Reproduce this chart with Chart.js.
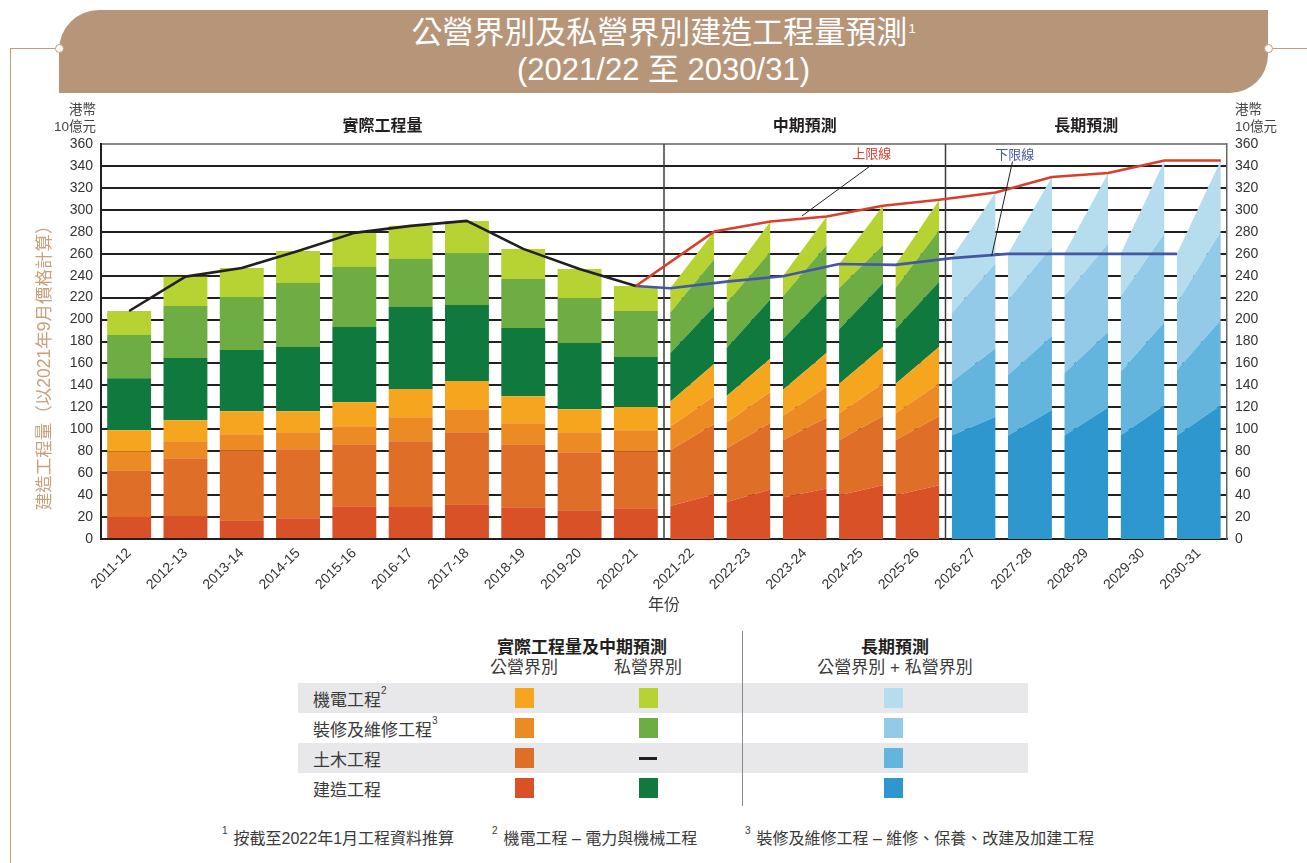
<!DOCTYPE html>
<html><head><meta charset="utf-8">
<script src="https://cdn.jsdelivr.net/npm/chart.js@4.4.1/dist/chart.umd.min.js"></script>
<style>
html,body{margin:0;padding:0;background:#fff;}
body{width:1307px;height:863px;position:relative;overflow:hidden;font-family:"Liberation Sans","Noto Sans CJK TC",sans-serif;color:#3a3a3a;}
.abs{position:absolute;}
#chartWrap{position:absolute;left:0;top:0;width:1307px;height:625px;}
.banner{left:59px;top:10px;width:1209px;height:83px;background:#B79579;border-radius:40px 0 38px 0;color:#fff;text-align:center;font-size:31px;line-height:37px;padding-top:4px;box-sizing:border-box;font-family:"Liberation Sans","Noto Sans CJK TC",sans-serif;}
.banner sup{font-size:13px;vertical-align:top;position:relative;top:-4px;margin-left:1px;}
.conn{background:#C49C7E;}
.dot{width:9px;height:9px;border-radius:50%;background:#fff;border:1.3px solid #C49C7E;box-sizing:border-box;}
.unit{font-size:13.5px;line-height:17px;color:#444;}
.lg{font-size:17px;color:#3a3a3a;white-space:nowrap;}
.lgh{font-size:17px;font-weight:bold;color:#231F20;white-space:nowrap;}
.band{left:298px;width:730px;height:30px;background:#E8E8EA;}
.sw{width:19px;height:20px;}
.lg sup{font-size:10px;vertical-align:top;position:relative;top:-1px;}
.fn{font-size:16px;color:#3a3a3a;white-space:nowrap;top:825px;}
.fn sup{font-size:10px;vertical-align:top;position:relative;top:0px;margin-right:6px;}
</style></head>
<body>
<!-- decorative connector lines -->
<div class="abs conn" style="left:10px;top:48px;width:49px;height:1px;"></div>
<div class="abs conn" style="left:10px;top:48px;width:1px;height:815px;"></div>
<div class="abs conn" style="left:1268px;top:48px;width:39px;height:1px;"></div>
<div class="abs banner">公營界別及私營界別建造工程量預測<sup>1</sup><br>(2021/22 至 2030/31)</div>
<div class="abs dot" style="left:54.5px;top:43.5px;"></div>
<div class="abs dot" style="left:1263.5px;top:43.5px;"></div>

<div id="chartWrap"><canvas id="c" width="1307" height="625"></canvas></div>

<div class="abs unit" style="right:1211px;top:101px;text-align:right;">港幣<br>10億元</div>
<div class="abs unit" style="left:1235px;top:101px;text-align:left;">港幣<br>10億元</div>

<!-- legend -->
<div class="abs band" style="top:683px;"></div>
<div class="abs band" style="top:743px;"></div>
<div class="abs" style="left:742px;top:631px;width:1px;height:175px;background:#8a8a8a;"></div>
<div class="abs lgh" style="left:582px;top:633px;transform:translateX(-50%);">實際工程量及中期預測</div>
<div class="abs lg" style="left:524px;top:653px;transform:translateX(-50%);">公營界別</div>
<div class="abs lg" style="left:648px;top:653px;transform:translateX(-50%);">私營界別</div>
<div class="abs lgh" style="left:895px;top:633px;transform:translateX(-50%);">長期預測</div>
<div class="abs lg" style="left:895px;top:653px;transform:translateX(-50%);">公營界別 + 私營界別</div>
<div id="legendRows"></div>

<div class="abs fn" style="left:222px;"><sup>1</sup>按截至2022年1月工程資料推算</div>
<div class="abs fn" style="left:492px;"><sup>2</sup>機電工程 – 電力與機械工程</div>
<div class="abs fn" style="left:745px;"><sup>3</sup>裝修及維修工程 – 維修、保養、改建及加建工程</div>

<script>
// ---------------- DATA ----------------
const categories = ['2011-12','2012-13','2013-14','2014-15','2015-16','2016-17','2017-18','2018-19','2019-20','2020-21',
  '2021-22','2022-23','2023-24','2024-25','2025-26','2026-27','2027-28','2028-29','2029-30','2030-31'];

// Actual output 2011-12 .. 2020-21 (HK$ billion)
const actPubBuild  = [20.1, 21.0, 17.0, 18.9, 29.8, 29.2, 31.6, 28.9, 26.2, 28.0];
const actPubCivil  = [42.6, 52.6, 63.9, 62.9, 56.6, 59.9, 65.8, 57.5, 52.9, 52.0];
const actPubFit    = [17.3, 15.5, 14.6, 15.6, 16.4, 21.9, 20.9, 19.2, 18.3, 19.2];
const actPubEM     = [19.2, 19.2, 21.0, 19.1, 21.9, 25.6, 25.6, 24.6, 20.9, 21.0];
const actPrivBuild = [47.4, 56.6, 55.7, 58.4, 68.5, 74.8, 69.4, 62.1, 60.3, 45.6];
const actPrivFit   = [39.3, 47.5, 48.4, 58.4, 54.7, 43.8, 47.4, 44.7, 41.1, 42.0];
const actPrivEM    = [21.9, 26.7, 26.4, 29.2, 31.1, 30.2, 29.2, 27.4, 26.4, 22.8];

// Medium-term forecast 2021-22 .. 2025-26 : lower bound (left edge) and upper bound (right edge)
const midLoPubBuild  = [30.1, 33.8, 37.8, 39.9, 39.9];
const midLoPubCivil  = [50.9, 48.7, 52.3, 50.2, 50.2];
const midLoPubFit    = [21.2, 23.4, 21.9, 24.3, 24.3];
const midLoPubEM     = [22.8, 24.3, 23.7, 26.8, 26.8];
const midLoPrivBuild = [44.2, 43.6, 46.3, 49.9, 49.9];
const midLoPrivFit   = [37.1, 41.0, 38.9, 37.4, 37.4];
const midLoPrivEM    = [22.2, 19.8, 18.6, 22.2, 21.3];

const midHiPubBuild  = [40.5, 45.1, 46.0, 49.0, 49.0];
const midHiPubCivil  = [64.2, 60.8, 64.8, 63.0, 63.0];
const midHiPubFit    = [25.5, 28.3, 27.9, 29.8, 29.8];
const midHiPubEM     = [29.3, 30.4, 31.1, 33.4, 33.4];
const midHiPrivBuild = [52.3, 53.9, 54.2, 57.9, 59.4];
const midHiPrivFit   = [43.2, 43.5, 44.0, 34.9, 47.2];
const midHiPrivEM    = [25.2, 27.4, 25.9, 35.7, 27.4];

// Long-term forecast 2026-27 .. 2030-31 (public + private)
const longLoBuild = [94.3, 94.3, 94.3, 94.3, 94.3];
const longLoCivil = [49.0, 55.1, 56.7, 58.0, 59.7];
const longLoFit   = [62.4, 68.5, 69.9, 68.6, 60.8];
const longLoEM    = [50.3, 42.0, 39.0, 39.0, 45.1];

const longHiBuild = [111.4, 117.5, 119.9, 122.0, 122.0];
const longHiCivil = [62.4, 67.5, 69.1, 76.1, 77.6];
const longHiFit   = [77.6, 81.5, 80.6, 80.6, 80.6];
const longHiEM    = [64.4, 63.4, 63.9, 66.3, 64.8];

const yTicks = [0,20,40,60,80,100,120,140,160,180,200,220,240,260,280,300,320,340,360];
const sectionTitles = ['實際工程量','中期預測','長期預測'];
const upperLabel = '上限線', lowerLabel = '下限線';
const yTitle = '建造工程量（以2021年9月價格計算）';
const xTitle = '年份';

// ---------------- STYLE ----------------
const FONT = '"Liberation Sans","Noto Sans CJK TC",sans-serif';
const C = {
  pubBuild:'#D85127', pubCivil:'#DF6F28', pubFit:'#EC8A24', pubEM:'#F6A51F',
  privBuild:'#107A3E', privFit:'#6DAD43', privEM:'#B6D233',
  lBuild:'#2E98CE', lCivil:'#63B5DD', lFit:'#92CAE8', lEM:'#B5DDEE',
  actual:'#231F20', upper:'#D9402B', lower:'#4457A6', grid:'#231F20', yTitle:'#C9A07C'
};
const BAR_PCT = 0.78, HW = BAR_PCT/2;
const N_ACT = actPubBuild.length, MID0 = 10, LONG0 = 15;

// ---------------- LEGEND (HTML) ----------------
(function(){
  const rows = [
    {label:'機電工程<sup>2</sup>', a:C.pubEM, b:C.privEM, c:C.lEM},
    {label:'裝修及維修工程<sup>3</sup>', a:C.pubFit, b:C.privFit, c:C.lFit},
    {label:'土木工程', a:C.pubCivil, b:null, c:C.lCivil},
    {label:'建造工程', a:C.pubBuild, b:C.privBuild, c:C.lBuild}
  ];
  const host = document.getElementById('legendRows');
  rows.forEach((r,i)=>{
    const cy = 698 + i*30;
    let h = `<div class="abs lg" style="left:313px;top:${cy-12}px;">${r.label}</div>`;
    h += `<div class="abs sw" style="left:${524-9.5}px;top:${cy-10}px;background:${r.a}"></div>`;
    if (r.b) h += `<div class="abs sw" style="left:${648-9.5}px;top:${cy-10}px;background:${r.b}"></div>`;
    else h += `<div class="abs" style="left:${648-9}px;top:${cy-1.5}px;width:18px;height:3px;background:#231F20"></div>`;
    h += `<div class="abs sw" style="left:${893-9.5}px;top:${cy-10}px;background:${r.c}"></div>`;
    host.insertAdjacentHTML('beforeend', h);
  });
})();

// ---------------- DATASETS ----------------
const datasets = [];
const sum = arrs => arrs[0].map((_,j)=>arrs.reduce((s,a)=>s+a[j],0));

// actual stacked bars (floating, built from cumulative sums)
const actSeries = [actPubBuild, actPubCivil, actPubFit, actPubEM, actPrivBuild, actPrivFit, actPrivEM];
const actColors = [C.pubBuild, C.pubCivil, C.pubFit, C.pubEM, C.privBuild, C.privFit, C.privEM];
let base = new Array(N_ACT).fill(0);
actSeries.forEach((s,k)=>{
  const data = categories.map((_,i)=> i < N_ACT ? [base[i], base[i]+s[i]] : null);
  datasets.push({type:'bar', xAxisID:'x', yAxisID:'y', data, backgroundColor:actColors[k],
    borderWidth:0, grouped:false, barPercentage:BAR_PCT, categoryPercentage:1, order:3});
  base = base.map((b,i)=>b+s[i]);
});

// forecast slanted bars: lower stack at left edge, upper stack at right edge
function addSlanted(loSeries, hiSeries, colors, startIdx){
  const n = loSeries[0].length;
  for (let j=0;j<n;j++){
    const idx = startIdx + j;
    let lo = 0, hi = 0, prev = null;
    loSeries.forEach((s,k)=>{
      lo += s[j]; hi += hiSeries[k][j];
      datasets.push({type:'line', xAxisID:'x2', yAxisID:'y',
        data:[{x:idx-HW, y:lo},{x:idx+HW, y:hi}],
        borderWidth:0, borderColor:'rgba(0,0,0,0)', pointRadius:0, pointHoverRadius:0,
        backgroundColor:colors[k], fill: prev===null ? 'origin' : prev, tension:0,
        stack:'poly'+datasets.length, order:2});
      prev = datasets.length-1;
    });
  }
}
addSlanted([midLoPubBuild, midLoPubCivil, midLoPubFit, midLoPubEM, midLoPrivBuild, midLoPrivFit, midLoPrivEM],
           [midHiPubBuild, midHiPubCivil, midHiPubFit, midHiPubEM, midHiPrivBuild, midHiPrivFit, midHiPrivEM],
           actColors, MID0);
addSlanted([longLoBuild, longLoCivil, longLoFit, longLoEM],
           [longHiBuild, longHiCivil, longHiFit, longHiEM],
           [C.lBuild, C.lCivil, C.lFit, C.lEM], LONG0);

// lines
const actTotal = sum(actSeries);
const loTotal = sum([midLoPubBuild, midLoPubCivil, midLoPubFit, midLoPubEM, midLoPrivBuild, midLoPrivFit, midLoPrivEM])
  .concat(sum([longLoBuild, longLoCivil, longLoFit, longLoEM]));
const hiTotal = sum([midHiPubBuild, midHiPubCivil, midHiPubFit, midHiPubEM, midHiPrivBuild, midHiPrivFit, midHiPrivEM])
  .concat(sum([longHiBuild, longHiCivil, longHiFit, longHiEM]));
const last = N_ACT-1;
const lineCommon = {type:'line', xAxisID:'x2', yAxisID:'y', pointRadius:0, pointHoverRadius:0, fill:false, tension:0, borderWidth:2.6, order:0, borderJoinStyle:'round'};
datasets.push(Object.assign({}, lineCommon, {borderColor:C.actual, stack:'lA',
  data: actTotal.map((v,i)=>({x:i, y:v}))}));
datasets.push(Object.assign({}, lineCommon, {borderColor:C.upper, stack:'lU',
  data: [{x:last, y:actTotal[last]}].concat(hiTotal.map((v,j)=>({x:MID0+j+HW, y:v})))}));
datasets.push(Object.assign({}, lineCommon, {borderColor:C.lower, stack:'lL',
  data: [{x:last, y:actTotal[last]}].concat(loTotal.map((v,j)=>({x:MID0+j-HW, y:v})))}));

// ---------------- OVERLAY PLUGIN ----------------
const sectionBreaks = [N_ACT-0.5, LONG0-0.5];
const sectionCenters = [(N_ACT-1)/2, (MID0+LONG0-1)/2, (LONG0+categories.length-1)/2];
const upperNote = {label:[13.19, 350.8], from:[13.19, 341], to:[11.95, 294.4]};
const lowerNote = {label:[15.73, 350.0], from:[15.69, 344], to:[15.32, 258]};
const yTitleCenter = 160; // value on y scale where the axis title is centred

const overlay = {
  id:'overlay',
  beforeDatasetsDraw(chart){
    const {ctx, chartArea:a, scales:{x2}} = chart;
    ctx.save();
    ctx.strokeStyle = '#3c3c3c'; ctx.lineWidth = 1.5;
    sectionBreaks.forEach(v=>{
      const px = x2.getPixelForValue(v);
      ctx.beginPath(); ctx.moveTo(px, a.top); ctx.lineTo(px, a.bottom); ctx.stroke();
    });
    ctx.restore();
  },
  afterDraw(chart){
    const {ctx, chartArea:a, scales:{x2, y}} = chart;
    ctx.save();
    ctx.fillStyle = '#231F20'; ctx.textAlign = 'center'; ctx.textBaseline = 'middle';
    ctx.font = `bold 16px ${FONT}`;
    sectionTitles.forEach((t,i)=> ctx.fillText(t, x2.getPixelForValue(sectionCenters[i]), a.top-17));
    [[upperNote, upperLabel, C.upper],[lowerNote, lowerLabel, C.lower]].forEach(([n, t, col])=>{
      ctx.strokeStyle = '#231F20'; ctx.lineWidth = 1;
      ctx.beginPath();
      ctx.moveTo(x2.getPixelForValue(n.from[0]), y.getPixelForValue(n.from[1]));
      ctx.lineTo(x2.getPixelForValue(n.to[0]), y.getPixelForValue(n.to[1]));
      ctx.stroke();
      ctx.font = `13px ${FONT}`; ctx.fillStyle = col;
      ctx.fillText(t, x2.getPixelForValue(n.label[0]), y.getPixelForValue(n.label[1]));
    });
    // y-axis title (rotated)
    ctx.translate(45, y.getPixelForValue(yTitleCenter));
    ctx.rotate(-Math.PI/2);
    ctx.font = `17.5px ${FONT}`; ctx.fillStyle = C.yTitle;
    ctx.fillText(yTitle, 0, 0);
    ctx.restore();
  }
};

// ---------------- CHART ----------------
Chart.defaults.font.family = FONT;
const tickFont = {size:14, family:FONT};
new Chart(document.getElementById('c'), {
  data:{labels:categories, datasets},
  options:{
    responsive:false, animation:false, events:[],
    layout:{padding:{top:144, left:0, right:0, bottom:0}},
    plugins:{legend:{display:false}, tooltip:{enabled:false}},
    scales:{
      x:{type:'category', position:'bottom', offset:true,
         grid:{display:false, drawTicks:false},
         border:{display:true, color:'#231F20', width:2},
         ticks:{font:tickFont, color:'#333', minRotation:45, maxRotation:45, padding:6, autoSkip:false},
         title:{display:true, text:xTitle, font:{size:16, family:FONT}, color:'#3a3a3a', padding:{top:0, bottom:10}},
         afterFit(s){ s.height = 86; }},
      x2:{type:'linear', display:false, min:-0.5, max:categories.length-0.5},
      y:{type:'linear', position:'left', min:0, max:360,
         afterBuildTicks(s){ s.ticks = yTicks.map(v=>({value:v})); },
         grid:{drawTicks:false, lineWidth:2, color:c=> c.tick && c.tick.value===360 ? '#8a8a8a' : C.grid},
         border:{display:true, color:'#231F20', width:2},
         ticks:{font:tickFont, color:'#333', padding:8},
         afterFit(s){ s.width = 101; }},
      y2:{type:'linear', position:'right', min:0, max:360,
         afterBuildTicks(s){ s.ticks = yTicks.map(v=>({value:v})); },
         grid:{display:false, drawTicks:false},
         border:{display:true, color:'#666', width:1.5},
         ticks:{font:tickFont, color:'#333', padding:8},
         afterFit(s){ s.width = 80; }}
    }
  },
  plugins:[overlay]
});
</script>
</body></html>
